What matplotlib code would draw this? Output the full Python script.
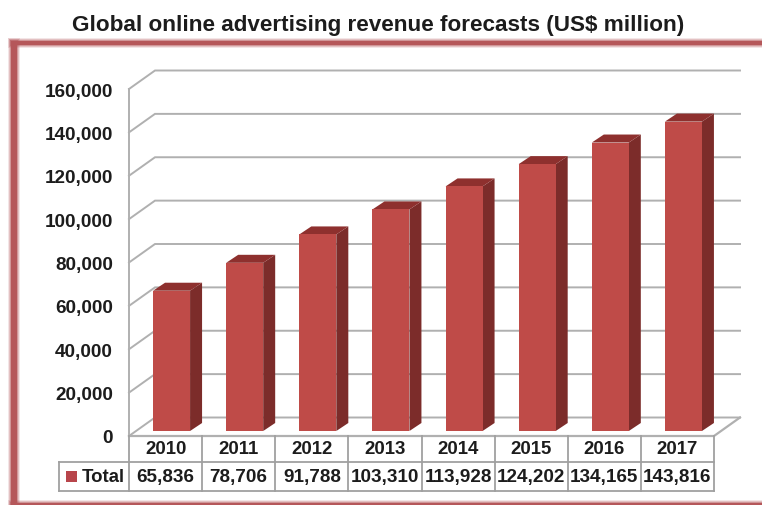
import matplotlib
matplotlib.use("Agg")
import matplotlib.pyplot as plt
from matplotlib.patches import Polygon, Rectangle

plt.rcParams['font.family'] = ['Liberation Sans', 'DejaVu Sans']

years = ['2010', '2011', '2012', '2013', '2014', '2015', '2016', '2017']
total = [65836, 78706, 91788, 103310, 113928, 124202, 134165, 143816]
y_ticks = [0, 20000, 40000, 60000, 80000, 100000, 120000, 140000, 160000]
title = 'Global online advertising revenue forecasts (US$ million)'
series_name = 'Total'

W, H = 762, 506
fig = plt.figure(figsize=(W / 100, H / 100), dpi=100, facecolor='white')

# frame (soft edge built from stacked translucent strips)
bg = fig.add_axes([0, 0, 1, 1], zorder=0)
bg.set_xlim(0, W); bg.set_ylim(H, 0); bg.axis('off')
for grow, alpha in [(3, .15), (2, .25), (1, .4), (0, 1)]:
    c = '#B5575A'
    bg.add_patch(Rectangle((11 - grow, 42 - grow), 6 + 2 * grow, 464 + 2 * grow, fc=c, ec='none', alpha=alpha))
    bg.add_patch(Rectangle((11 - grow, 42 - grow), 751 + grow, 4 + 2 * grow, fc=c, ec='none', alpha=alpha))
    bg.add_patch(Rectangle((11 - grow, 504 - grow), 751 + grow, 2 + grow, fc=c, ec='none', alpha=alpha))

# plot axes: front plane of the 3-D box
L, R, T, B = 129, 714, 90, 437
ax = fig.add_axes([L / W, 1 - B / H, (R - L) / W, (B - T) / H], zorder=1)
ax.set_xlim(-0.5, 7.5)
ax.set_ylim(0, 160000)
ax.patch.set_alpha(0)
for s in ax.spines.values():
    s.set_visible(False)
ax.set_xticks([])
ax.set_yticks(y_ticks)
ax.set_yticklabels([f'{v:,}' for v in y_ticks], fontsize=13.6, fontweight='bold', color='#1c1c1c')
ax.tick_params(axis='y', length=0, pad=11.5)

px_x = 8 / (R - L)
px_y = 160000 / (B - T)
dx_wall, dy_wall = 26 * px_x, 18.5 * px_y
grid = '#b0b0b0'

# walls
for v in y_ticks:
    ax.plot([-0.5, -0.5 + dx_wall, 7.5 + dx_wall], [v, v + dy_wall, v + dy_wall],
            color=grid, lw=1.4, clip_on=False, zorder=1, solid_joinstyle='miter')
ax.plot([-0.5, -0.5], [0, 160000], color=grid, lw=1.4, clip_on=False, zorder=1)
ax.plot([-0.5, 7.5, 7.5 + dx_wall], [0, 0, dy_wall], color=grid, lw=1.6, clip_on=False, zorder=1)

# bars
bar_half = 18.5 * px_x
base = 5 * px_y
ddx, ddy = 12 * px_x, 8 * px_y
shift = 6 * px_x
for i, v in enumerate(total):
    xc = i + shift
    x0, x1 = xc - bar_half, xc + bar_half
    y0, y1 = base, v + base - 2.5 * px_y
    ax.add_patch(Polygon([(x1, y0), (x1 + ddx, y0 + ddy), (x1 + ddx, y1 + ddy), (x1, y1)],
                         fc='#7C2C2A', ec='none', clip_on=False, zorder=3))
    ax.add_patch(Polygon([(x0, y1), (x0 + ddx, y1 + ddy), (x1 + ddx, y1 + ddy), (x1, y1)],
                         fc='#8E302E', ec='none', clip_on=False, zorder=3))
    ax.add_patch(Polygon([(x0, y0), (x1, y0), (x1, y1), (x0, y1)],
                         fc='#BF4B48', ec='none', clip_on=False, zorder=4))

# data table
row1 = -26 * px_y
row2 = -55 * px_y
tc = '#a0a0a0'
ax.plot([-0.5, 7.5], [row1, row1], color=tc, lw=1.3, clip_on=False)
ax.plot([-0.5 - 70 * px_x, 7.5], [row2, row2], color=tc, lw=1.3, clip_on=False)
ax.plot([-0.5 - 70 * px_x, -0.5], [row1, row1], color=tc, lw=1.3, clip_on=False)
ax.plot([-0.5 - 70 * px_x] * 2, [row1, row2], color=tc, lw=1.3, clip_on=False)
for i in range(9):
    ax.plot([i - 0.5, i - 0.5], [0, row2], color=tc, lw=1.3, clip_on=False)
for i, (yr, v) in enumerate(zip(years, total)):
    ax.text(i, row1 / 2, yr, ha='center', va='center', fontsize=13.4, fontweight='bold', color='#1c1c1c', clip_on=False)
    ax.text(i, (row1 + row2) / 2, f'{v:,}', ha='center', va='center', fontsize=13.6, fontweight='bold', color='#1c1c1c', clip_on=False)
ax.add_patch(Rectangle((-0.5 - 63 * px_x, (row1 + row2) / 2 - 5.5 * px_y), 11 * px_x, 11 * px_y,
                       fc='#B8454B', ec='none', clip_on=False))
ax.text(-0.5 - 4 * px_x, (row1 + row2) / 2, series_name, ha='right', va='center', fontsize=13.4,
        fontweight='bold', color='#1c1c1c', clip_on=False)

fig.text(378.5 / W, 1 - 25 / H, title, ha='center', va='center', fontsize=16.2, fontweight='bold', color='#1c1c1c')

fig.savefig('out.png', dpi=100)
